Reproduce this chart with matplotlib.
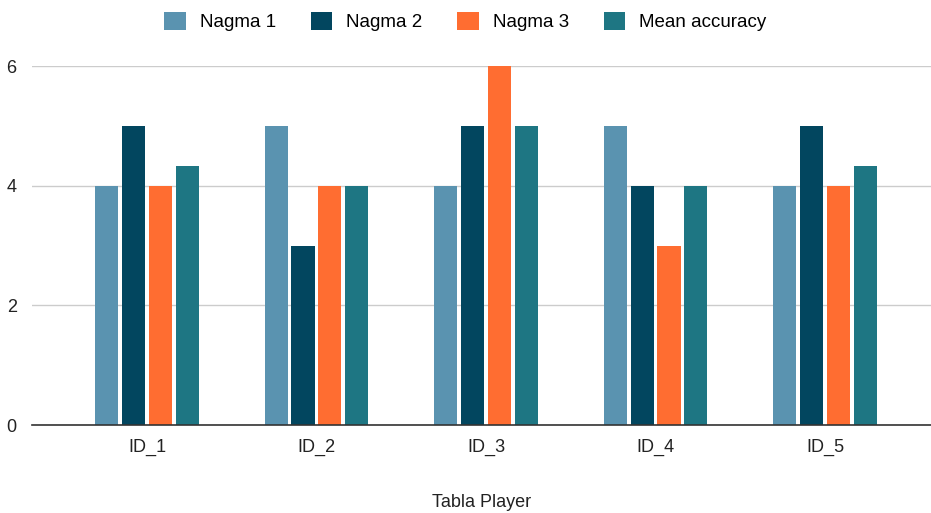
import matplotlib as mpl
import matplotlib.pyplot as plt
import numpy as np

players = ["ID_1", "ID_2", "ID_3", "ID_4", "ID_5"]
nagma_1 = [4, 5, 4, 5, 4]
nagma_2 = [5, 3, 5, 4, 5]
nagma_3 = [4, 4, 6, 3, 4]
mean_accuracy = [4.33, 4, 5, 4, 4.33]

series_names = ["Nagma 1", "Nagma 2", "Nagma 3", "Mean accuracy"]
series_colors = ["#5A93B0", "#02465F", "#FF6D31", "#1E7683"]

mpl.rcParams.update({
    "font.family": ["Liberation Sans", "DejaVu Sans"],
    "font.size": 13,
})

fig = plt.figure(figsize=(9.31, 5.13), dpi=100)
ax = fig.add_axes([0.0344, 0.1715, 0.9656, 0.6998])

x = np.arange(len(players))
width = 0.136
pitch = 0.159
all_series = [nagma_1, nagma_2, nagma_3, mean_accuracy]
handles = []
for i, (vals, name, color) in enumerate(zip(all_series, series_names, series_colors)):
    offset = (i - 1.5) * pitch
    b = ax.bar(x + offset, vals, width, color=color, label=name, zorder=3)
    handles.append(b)

ax.set_xlim(-0.678, 4.625)
ax.set_ylim(0, 6)
ax.set_yticks([0, 2, 4, 6])
ax.set_xticks(x)
ax.set_xticklabels(players)
ax.yaxis.grid(True, color="#cccccc", linewidth=1.0, zorder=0)
ax.set_axisbelow(True)
for side in ["top", "right", "left"]:
    ax.spines[side].set_visible(False)
ax.spines["bottom"].set_color("#333333")
ax.spines["bottom"].set_linewidth(1.2)
ax.spines["bottom"].set_zorder(4)
ax.tick_params(axis="both", length=0, labelsize=13, colors="#222222")
ax.tick_params(axis="y", pad=11)
ax.tick_params(axis="x", pad=10)
ax.set_xlabel("Tabla Player", fontsize=13, color="#222222", labelpad=27)

fig.legend(handles=handles, labels=series_names, loc="upper center",
           bbox_to_anchor=(0.5, 1.01), ncol=4, frameon=False, fontsize=13.5,
           handlelength=1.15, handleheight=1.15, handletextpad=0.75,
           columnspacing=1.85)

fig.savefig("out.png", dpi=100, facecolor="white")
